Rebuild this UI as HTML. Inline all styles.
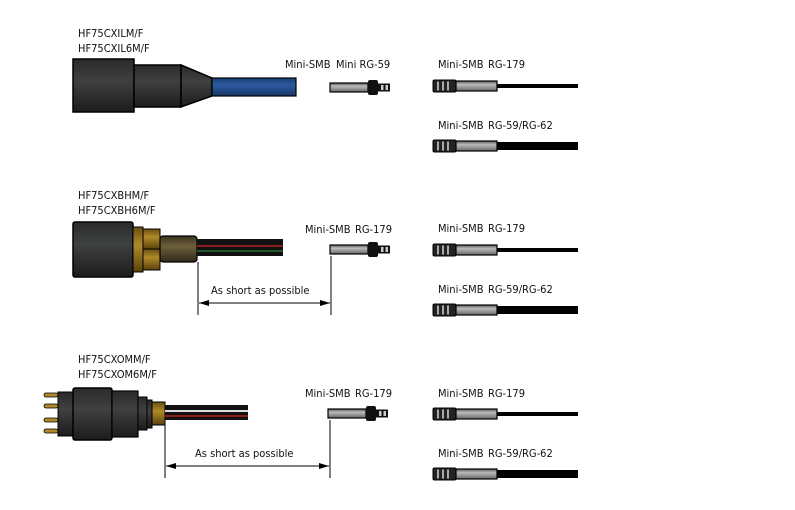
<!DOCTYPE html>
<html><head><meta charset="utf-8"><style>
html,body{margin:0;padding:0;background:#fff;}
svg{display:block}
text{font-family:"DejaVu Sans Condensed","Liberation Sans",sans-serif;font-size:11px;fill:#111}
</style></head><body>
<svg width="795" height="510" viewBox="0 0 795 510" xmlns="http://www.w3.org/2000/svg">
<defs>
<linearGradient id="blk" x1="0" y1="0" x2="0" y2="1"><stop offset="0" stop-color="#2a2a2a"/><stop offset="0.4" stop-color="#3f4040"/><stop offset="1" stop-color="#1c1c1c"/></linearGradient>
<linearGradient id="gry" x1="0" y1="0" x2="0" y2="1"><stop offset="0" stop-color="#555"/><stop offset="0.35" stop-color="#bbb"/><stop offset="1" stop-color="#666"/></linearGradient>
<linearGradient id="blu" x1="0" y1="0" x2="0" y2="1"><stop offset="0" stop-color="#1d3f75"/><stop offset="0.4" stop-color="#2c5aa0"/><stop offset="1" stop-color="#173563"/></linearGradient>
<linearGradient id="brs" x1="0" y1="0" x2="0" y2="1"><stop offset="0" stop-color="#6b4f12"/><stop offset="0.4" stop-color="#b08a2a"/><stop offset="1" stop-color="#5a410c"/></linearGradient>
<linearGradient id="knr" x1="0" y1="0" x2="0" y2="1"><stop offset="0" stop-color="#3a3220"/><stop offset="0.4" stop-color="#6e5f3c"/><stop offset="1" stop-color="#30291a"/></linearGradient>
<g id="plugA">
<rect x="0" y="1" width="38" height="9" fill="url(#gry)" stroke="#000" stroke-width="1.2"/>
<rect x="38" y="-2" width="10" height="15" rx="2" fill="#111"/>
<rect x="48" y="1.5" width="12" height="8" fill="#111"/>
<rect x="51" y="3" width="2.5" height="5" fill="#ccc"/><rect x="55.5" y="3" width="2.5" height="5" fill="#ccc"/>
</g>
<g id="plugB">
<rect x="0" y="0" width="23" height="12" rx="1.5" fill="#222" stroke="#000"/>
<rect x="4" y="1.5" width="2" height="9" fill="#aaa"/><rect x="9" y="1.5" width="2" height="9" fill="#aaa"/><rect x="14" y="1.5" width="2" height="9" fill="#aaa"/>
<rect x="23" y="1" width="41" height="10" fill="url(#gry)" stroke="#000" stroke-width="1.2"/>
</g>
<marker id="ar" viewBox="0 0 10 6" refX="10" refY="3" markerWidth="10" markerHeight="6" orient="auto-start-reverse" markerUnits="userSpaceOnUse"><path d="M0,0 L10,3 L0,6z" fill="#000"/></marker>
</defs>

<!-- Section 1 -->
<text x="78" y="37">HF75CXILM/F</text>
<text x="78" y="52">HF75CXIL6M/F</text>
<rect x="73" y="59" width="61" height="53" fill="url(#blk)" stroke="#000" stroke-width="1.5"/>
<rect x="134" y="65" width="47" height="42" fill="url(#blk)" stroke="#000" stroke-width="1.5"/>
<path d="M181,65 L212,78 L212,96 L181,107z" fill="url(#blk)" stroke="#000" stroke-width="1.5"/>
<rect x="212" y="78" width="84" height="18" fill="url(#blu)" stroke="#000" stroke-width="1.2"/>
<text x="285" y="68">Mini-SMB</text><text x="336" y="68">Mini RG-59</text>
<use href="#plugA" x="330" y="82"/>

<!-- Right col 1 -->
<text x="438" y="68">Mini-SMB</text><text x="488" y="68">RG-179</text>
<use href="#plugB" x="433" y="80"/>
<rect x="497" y="84" width="81" height="4" fill="#000"/>
<text x="438" y="129">Mini-SMB</text><text x="488" y="129">RG-59/RG-62</text>
<use href="#plugB" x="433" y="140"/>
<rect x="497" y="142" width="81" height="8" fill="#000"/>

<!-- Section 2 -->
<text x="78" y="199">HF75CXBHM/F</text>
<text x="78" y="214">HF75CXBH6M/F</text>
<rect x="73" y="222" width="60" height="55" rx="2" fill="url(#blk)" stroke="#000" stroke-width="1.5"/>
<rect x="133" y="227" width="10" height="45" fill="url(#brs)" stroke="#000"/>
<rect x="143" y="229" width="17" height="20" fill="url(#brs)" stroke="#000"/>
<rect x="143" y="249" width="17" height="21" fill="url(#brs)" stroke="#000"/>
<rect x="160" y="236" width="37" height="26" rx="3" fill="url(#knr)" stroke="#000" stroke-width="1.2"/>
<rect x="197" y="239" width="86" height="17" fill="#111"/>
<rect x="197" y="245" width="86" height="2" fill="#8b1a1a"/>
<rect x="197" y="250" width="86" height="2" fill="#1f5a2a"/>
<text x="305" y="233">Mini-SMB</text><text x="355" y="233">RG-179</text>
<use href="#plugA" x="330" y="244"/>
<line x1="198" y1="262" x2="198" y2="315" stroke="#000"/>
<line x1="331" y1="256" x2="331" y2="315" stroke="#000"/>
<line x1="199" y1="303" x2="330" y2="303" stroke="#000" marker-start="url(#ar)" marker-end="url(#ar)"/>
<text x="211" y="294">As short as possible</text>

<text x="438" y="232">Mini-SMB</text><text x="488" y="232">RG-179</text>
<use href="#plugB" x="433" y="244"/>
<rect x="497" y="248" width="81" height="4" fill="#000"/>
<text x="438" y="293">Mini-SMB</text><text x="488" y="293">RG-59/RG-62</text>
<use href="#plugB" x="433" y="304"/>
<rect x="497" y="306" width="81" height="8" fill="#000"/>

<!-- Section 3 -->
<text x="78" y="363">HF75CXOMM/F</text>
<text x="78" y="378">HF75CXOM6M/F</text>
<g fill="#b08a2a" stroke="#000" stroke-width="0.8">
<rect x="44" y="393" width="14" height="4" rx="2"/><rect x="44" y="404" width="14" height="4" rx="2"/>
<rect x="44" y="418" width="14" height="4" rx="2"/><rect x="44" y="429" width="14" height="4" rx="2"/>
</g>
<rect x="58" y="392" width="16" height="44" fill="url(#blk)" stroke="#000"/>
<rect x="73" y="388" width="39" height="52" rx="2" fill="url(#blk)" stroke="#000" stroke-width="1.5"/>
<rect x="112" y="391" width="26" height="46" fill="url(#blk)" stroke="#000" stroke-width="1.2"/>
<rect x="138" y="397" width="9" height="33" fill="url(#blk)" stroke="#000"/>
<rect x="147" y="400" width="5" height="28" fill="url(#blk)" stroke="#000"/>
<rect x="152" y="402" width="13" height="23" fill="url(#brs)" stroke="#000"/>
<rect x="165" y="405" width="83" height="15" fill="#111"/>
<rect x="165" y="410" width="83" height="2" fill="#ddd"/>
<rect x="165" y="415" width="83" height="2" fill="#8b1a1a"/>
<text x="305" y="397">Mini-SMB</text><text x="355" y="397">RG-179</text>
<use href="#plugA" x="328" y="408"/>
<line x1="165" y1="425" x2="165" y2="478" stroke="#000"/>
<line x1="330" y1="420" x2="330" y2="478" stroke="#000"/>
<line x1="166" y1="466" x2="329" y2="466" stroke="#000" marker-start="url(#ar)" marker-end="url(#ar)"/>
<text x="195" y="457">As short as possible</text>

<text x="438" y="397">Mini-SMB</text><text x="488" y="397">RG-179</text>
<use href="#plugB" x="433" y="408"/>
<rect x="497" y="412" width="81" height="4" fill="#000"/>
<text x="438" y="457">Mini-SMB</text><text x="488" y="457">RG-59/RG-62</text>
<use href="#plugB" x="433" y="468"/>
<rect x="497" y="470" width="81" height="8" fill="#000"/>
</svg>
</body></html>
